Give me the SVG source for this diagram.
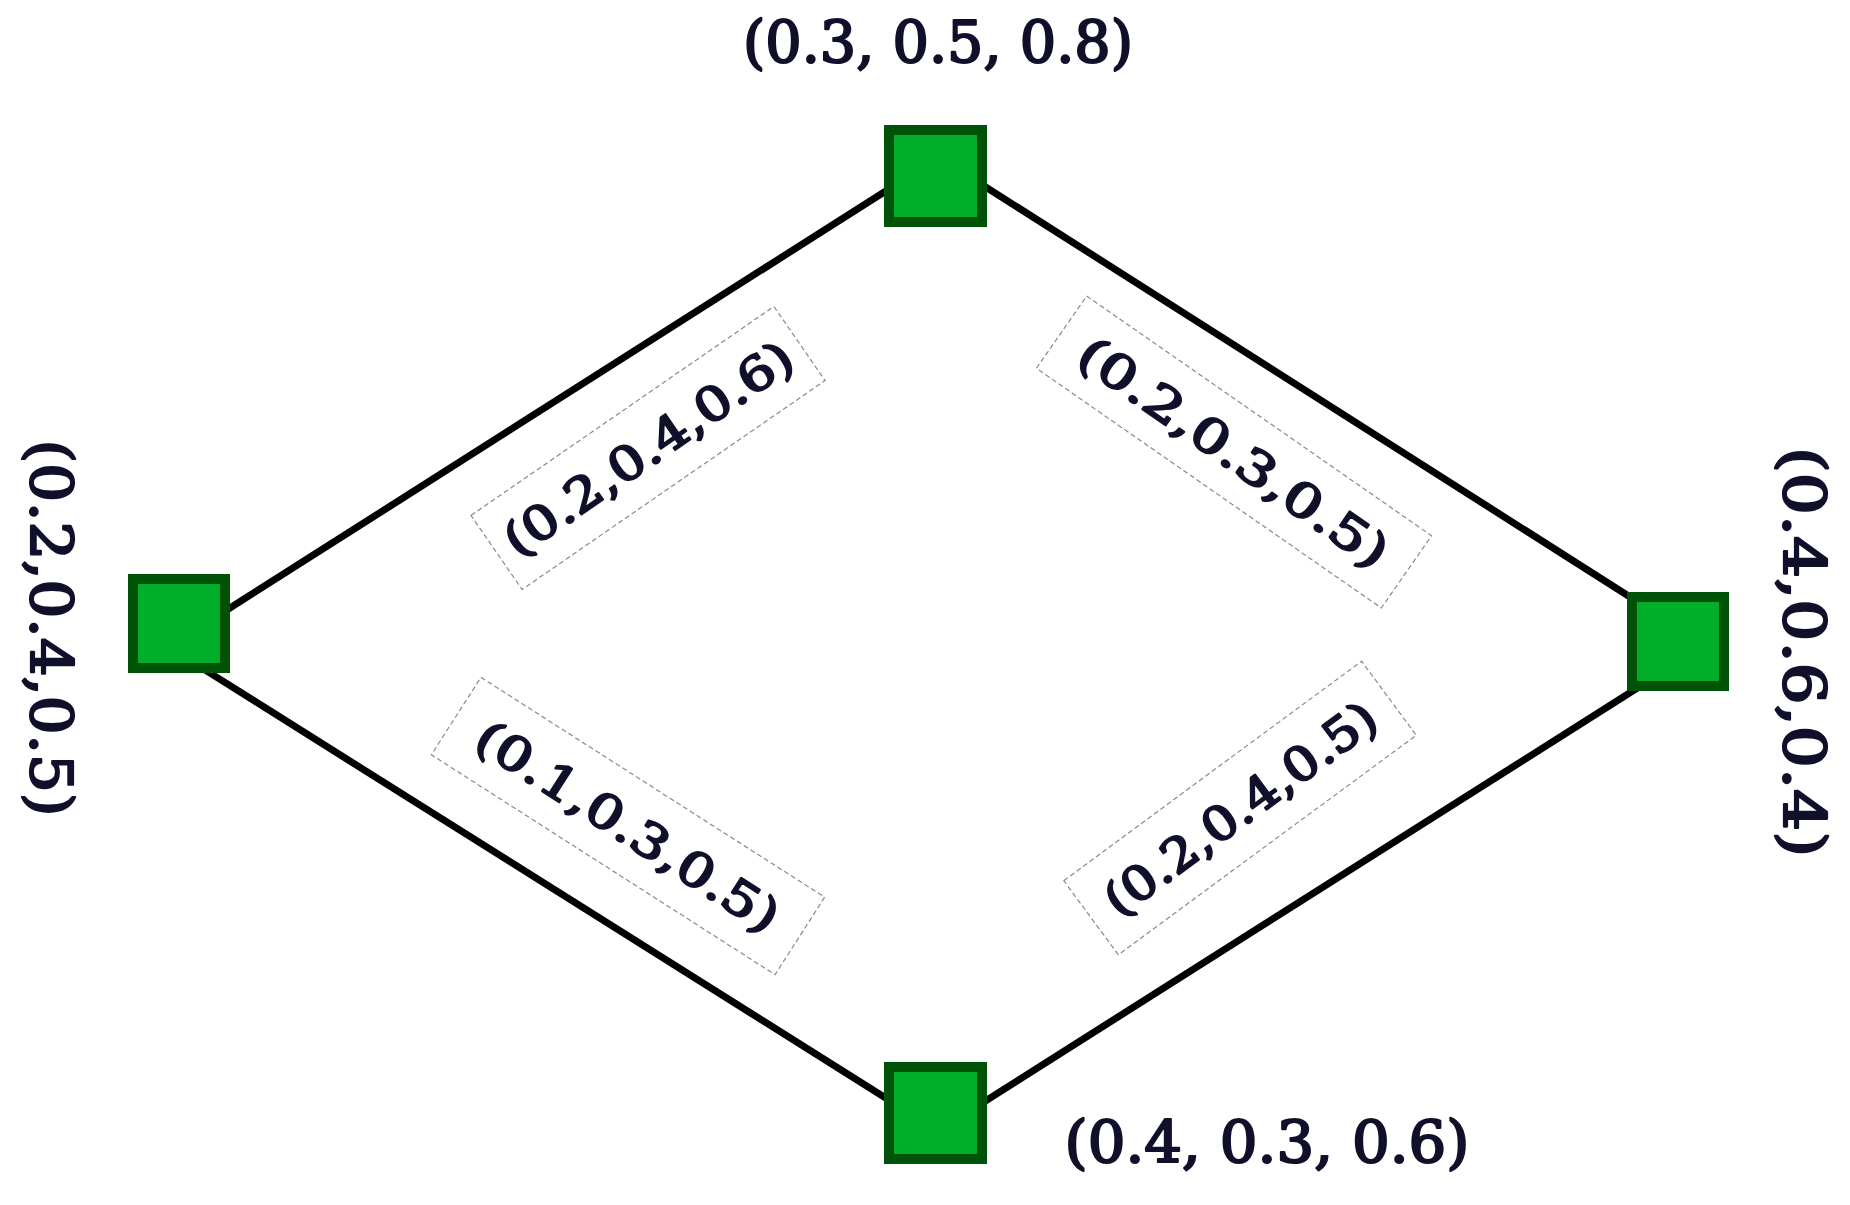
<svg xmlns="http://www.w3.org/2000/svg" width="1850" height="1205" viewBox="0 0 1850 1205">
<style>
.node{fill:#00ae2a;stroke:#005208;stroke-width:10}
.edge{stroke:#000;stroke-width:7;fill:none}
.lbl{font-family:"DejaVu Serif","Liberation Serif",serif;font-weight:normal;fill:#10102a;stroke:#10102a;stroke-width:2.2;stroke-linejoin:round}
.nl{font-size:57px}
.el{font-size:47px}
.box{fill:#fff;stroke:#8a8a8a;stroke-width:1.2;stroke-dasharray:5 3}
</style>
<rect width="1850" height="1205" fill="#fff"/>
<g id="edges">
<line class="edge" x1="215" y1="617.5" x2="900" y2="182"/>
<line class="edge" x1="970" y1="177" x2="1645" y2="606.5"/>
<line class="edge" x1="195" y1="663.6" x2="900" y2="1107"/>
<line class="edge" x1="970" y1="1110.7" x2="1650" y2="680"/>
</g>
<g id="edge-labels">
<g id="e-top-left" transform="translate(648,448) rotate(-34.6)">
<rect class="box" x="-184" y="-45" width="368" height="90"/>
<text class="lbl el" x="0" y="17" text-anchor="middle" textLength="340" lengthAdjust="spacingAndGlyphs">(0.2,0.4,0.6)</text>
</g>
<g id="e-top-right" transform="translate(1234,452) rotate(34.8)">
<rect class="box" x="-210" y="-44" width="420" height="88"/>
<text class="lbl el" x="0" y="17" text-anchor="middle" textLength="366" lengthAdjust="spacingAndGlyphs">(0.2,0.3,0.5)</text>
</g>
<g id="e-bottom-left" transform="translate(628,826) rotate(32.6)">
<rect class="box" x="-204" y="-46" width="408" height="92"/>
<text class="lbl el" x="0" y="17" text-anchor="middle" textLength="350" lengthAdjust="spacingAndGlyphs">(0.1,0.3,0.5)</text>
</g>
<g id="e-bottom-right" transform="translate(1240,808) rotate(-36.4)">
<rect class="box" x="-185" y="-46" width="370" height="92"/>
<text class="lbl el" x="0" y="17" text-anchor="middle" textLength="326" lengthAdjust="spacingAndGlyphs">(0.2,0.4,0.5)</text>
</g>
</g>
<g id="node-top">
<rect class="node" x="889" y="130" width="93" height="92"/>
<text class="lbl nl" x="938" y="62" text-anchor="middle" textLength="390" lengthAdjust="spacingAndGlyphs">(0.3, 0.5, 0.8)</text>
</g>
<g id="node-left">
<rect class="node" x="133" y="579" width="92" height="89"/>
<text class="lbl nl" transform="translate(31,628) rotate(90)" x="0" y="0" text-anchor="middle" textLength="377" lengthAdjust="spacingAndGlyphs">(0.2,0.4,0.5)</text>
</g>
<g id="node-right">
<rect class="node" x="1632" y="597" width="92" height="89"/>
<text class="lbl nl" transform="translate(1784,652) rotate(90)" x="0" y="0" text-anchor="middle" textLength="410" lengthAdjust="spacingAndGlyphs">(0.4,0.6,0.4)</text>
</g>
<g id="node-bottom">
<rect class="node" x="889" y="1067" width="93" height="92"/>
<text class="lbl nl" x="1267" y="1162" text-anchor="middle" textLength="405" lengthAdjust="spacingAndGlyphs">(0.4, 0.3, 0.6)</text>
</g>
</svg>
